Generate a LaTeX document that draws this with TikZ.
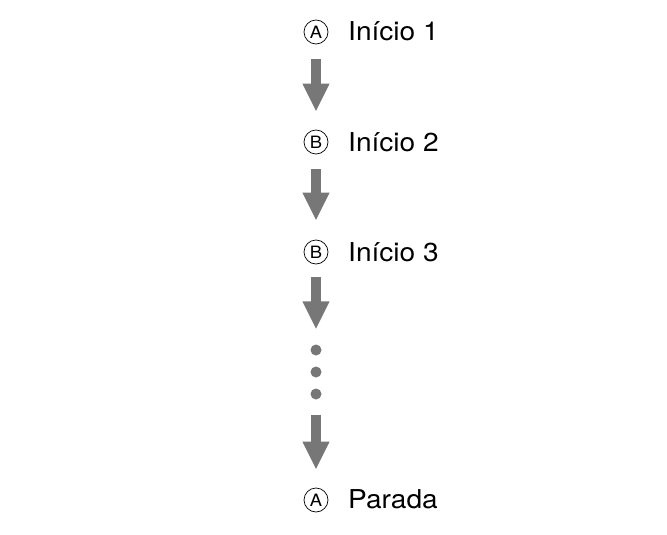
\documentclass[tikz,border=0pt]{standalone}
\usepackage{fontspec}
\setmainfont{TeX Gyre Heros}
\newfontfamily\widefont[FakeStretch=1.08]{TeX Gyre Heros}
\usetikzlibrary{arrows.meta,calc}
\definecolor{arrowgray}{HTML}{777777}
\tikzset{
  x=1pt,y=-1pt,
  circlabel/.style={circle,draw=black,line width=0.7pt,minimum size=24pt,inner sep=0pt,font=\widefont\fontsize{17}{17}\selectfont},
  steptext/.style={anchor=base west,inner sep=0pt,font=\widefont\fontsize{26}{26}\selectfont},
  fatarrow/.style={draw=arrowgray,line width=10pt,-{Triangle[width=25pt,length=28pt]}},
  dotnode/.style={circle,fill=arrowgray,minimum size=11pt,inner sep=0pt}
}
\begin{document}
\begin{tikzpicture}
\useasboundingbox (0,0) rectangle (667,535);
\node[circlabel] (a1) at (316,32) {A};
\node[steptext] (t1) at (348,41) {Início 1};
\node[circlabel] (a2) at (316,142) {B};
\node[steptext] (t2) at (348,151) {Início 2};
\node[circlabel] (a3) at (316,252) {B};
\node[steptext] (t3) at (348,261) {Início 3};
\node[dotnode] (d1) at (316,350) {};
\node[dotnode] (d2) at (316,372) {};
\node[dotnode] (d3) at (316,394) {};
\node[circlabel] (a4) at (316,500) {A};
\node[steptext] (t4) at (348,508) {Parada};
\draw[fatarrow] ($(a1.south)+(0,15)$) -- ($(a2.north)+(0,-18)$);
\draw[fatarrow] ($(a2.south)+(0,15)$) -- ($(a3.north)+(0,-19)$);
\draw[fatarrow] ($(a3.south)+(0,13)$) -- ($(d1.north)+(0,-15)$);
\draw[fatarrow] ($(d3.south)+(0,15)$) -- ($(a4.north)+(0,-18)$);
\end{tikzpicture}
\end{document}
